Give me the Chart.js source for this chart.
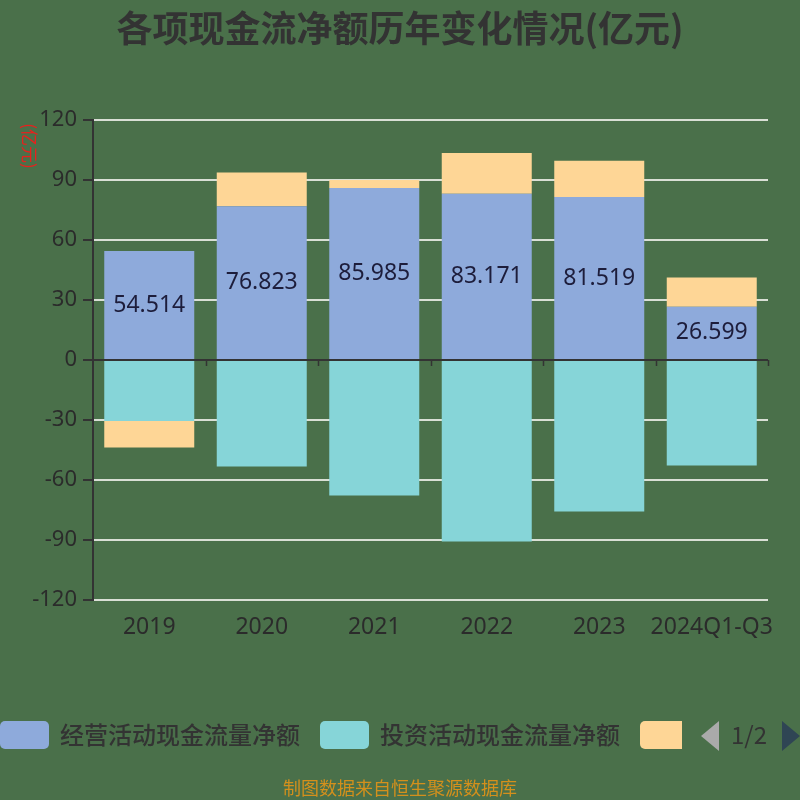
<!DOCTYPE html>
<html>
<head>
<meta charset="utf-8">
<script src="https://cdn.jsdelivr.net/npm/chart.js@4/dist/chart.umd.min.js"></script>
<style>
html,body{margin:0;padding:0;background:#4a704a;}
#wrap{position:relative;width:800px;height:800px;background:#4a704a;overflow:hidden;font-family:"Noto Sans CJK SC","Noto Sans",sans-serif;}
#c{position:absolute;left:0;top:0;}
#title{position:absolute;left:0;top:5px;width:800px;text-align:center;font-size:36px;line-height:1.2;font-weight:bold;color:#333;}
#ytitle{position:absolute;left:2px;top:134px;width:56px;height:24px;line-height:24px;text-align:center;transform:rotate(90deg);transform-origin:center;color:#e8201c;font-size:17px;white-space:nowrap;}
.lg{position:absolute;top:721px;height:28px;border-radius:5px;}
.lt{position:absolute;top:716px;font-size:24px;color:#333;white-space:nowrap;font-weight:500;}
#footer{position:absolute;left:0;width:800px;top:774px;text-align:center;font-size:18px;color:#d4901c;}
#pg{position:absolute;left:731px;top:716px;font-size:24px;color:#333;}
.arrL{position:absolute;left:701px;top:721px;width:0;height:0;border-top:15px solid transparent;border-bottom:15px solid transparent;border-right:18px solid #aaa;}
.arrR{position:absolute;left:782px;top:721px;width:0;height:0;border-top:15px solid transparent;border-bottom:15px solid transparent;border-left:18px solid #2f4554;}
</style>
</head>
<body>
<div id="wrap">
<canvas id="c" width="800" height="800"></canvas>
<div id="title">各项现金流净额历年变化情况(亿元)</div>
<div id="ytitle">(亿元)</div>
<div class="lg" style="left:0;width:49px;background:#8eaadb"></div>
<div class="lt" style="left:60px">经营活动现金流量净额</div>
<div class="lg" style="left:320px;width:49px;background:#86d5d8"></div>
<div class="lt" style="left:380px">投资活动现金流量净额</div>
<div class="lg" style="left:640px;width:42px;background:#fed696;border-radius:5px 0 0 5px"></div>
<div class="arrL"></div>
<div id="pg">1/2</div>
<div class="arrR"></div>
<div id="footer">制图数据来自恒生聚源数据库</div>
</div>
<script>
const categories = ["2019","2020","2021","2022","2023","2024Q1-Q3"];
const operating = [54.514, 76.823, 85.985, 83.171, 81.519, 26.599];
const investing = [-30.5, -53.3, -67.8, -90.8, -75.8, -52.8];
const financing = [-13.3, 16.9, 4.0, 20.3, 18.1, 14.6];
const yTicks = [-120, -90, -60, -30, 0, 30, 60, 90, 120];

const zeroAxis = {
  id: 'zeroAxis',
  afterDatasetsDraw(chart) {
    const {ctx, chartArea, scales} = chart;
    const y0 = scales.y.getPixelForValue(0);
    ctx.save();
    ctx.strokeStyle = '#333';
    ctx.lineWidth = 2;
    ctx.beginPath();
    ctx.moveTo(chartArea.left, y0);
    ctx.lineTo(chartArea.right, y0);
    ctx.stroke();
    ctx.lineWidth = 1.5;
    const step = (chartArea.right - chartArea.left) / categories.length;
    for (let i = 1; i <= categories.length; i++) {
      const x = Math.round(chartArea.left + step * i) + 0.5;
      ctx.beginPath();
      ctx.moveTo(x, y0);
      ctx.lineTo(x, y0 + 6);
      ctx.stroke();
    }
    ctx.restore();
  }
};

const barLabels = {
  id: 'barLabels',
  afterDatasetsDraw(chart) {
    const {ctx} = chart;
    const meta = chart.getDatasetMeta(0);
    ctx.save();
    ctx.font = '23px "Noto Sans", sans-serif';
    ctx.fillStyle = '#1d1d3b';
    ctx.textAlign = 'center';
    ctx.textBaseline = 'middle';
    meta.data.forEach((bar, i) => {
      const p = bar.getCenterPoint();
      ctx.fillText(operating[i].toFixed(3), p.x, p.y);
    });
    ctx.restore();
  }
};

new Chart(document.getElementById('c'), {
  type: 'bar',
  data: {
    labels: categories,
    datasets: [
      {label: '经营活动现金流量净额', data: operating, backgroundColor: '#8eaadb'},
      {label: '投资活动现金流量净额', data: investing, backgroundColor: '#86d5d8'},
      {label: '筹资活动现金流量净额', data: financing, backgroundColor: '#fed696'}
    ]
  },
  options: {
    responsive: false,
    animation: false,
    devicePixelRatio: 1,
    barPercentage: 0.8,
    categoryPercentage: 1,
    layout: {padding: {left: 0, right: 32, top: 120, bottom: 140}},
    plugins: {legend: {display: false}, title: {display: false}, tooltip: {enabled: false}},
    scales: {
      x: {
        stacked: true,
        grid: {display: false, drawTicks: false},
        border: {display: false},
        ticks: {padding: 14, autoSkip: false, maxRotation: 0, minRotation: 0, color: '#2b2b2b', font: {size: 23, family: '"Noto Sans", sans-serif'}},
        afterFit(s) { s.height = 60; }
      },
      y: {
        stacked: true,
        min: -120, max: 120,
        afterBuildTicks(s) { s.ticks = yTicks.map(v => ({value: v})); },
        grid: {color: '#d9dfd5', lineWidth: 2, tickColor: '#333', tickLength: 10, drawTicks: true},
        border: {display: true, color: '#333', width: 2},
        ticks: {padding: 6, color: '#2b2b2b', font: {size: 22, family: '"Noto Sans", sans-serif'}},
        afterFit(s) { s.width = 93; }
      }
    }
  },
  plugins: [zeroAxis, barLabels]
});
</script>
</body>
</html>
